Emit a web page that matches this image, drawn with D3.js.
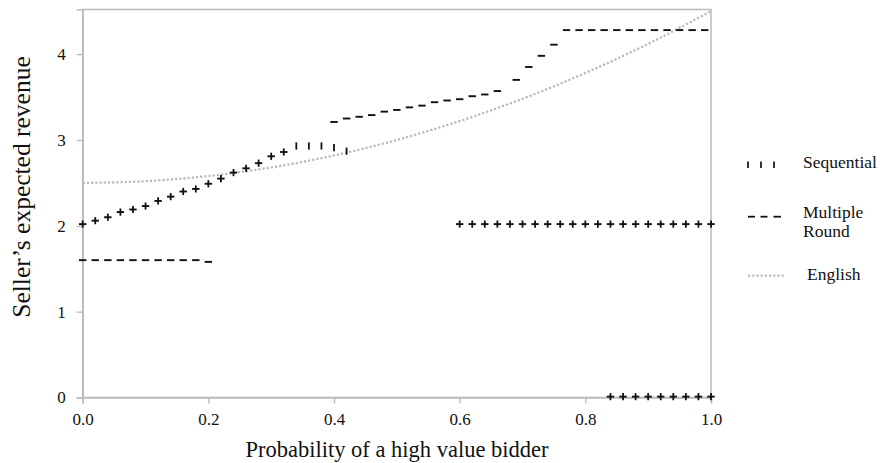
<!DOCTYPE html>
<html><head><meta charset="utf-8">
<script src="https://cdn.jsdelivr.net/npm/d3@7"></script>
<style>
html,body{margin:0;padding:0;background:#fff;}
svg{display:block;}
text{font-family:"Liberation Serif","Times New Roman",serif;fill:#111;}
</style></head>
<body>
<svg id="chart" width="880" height="463"></svg>
<script>
// ---- Data ----
const xTicks = [0.0, 0.2, 0.4, 0.6, 0.8, 1.0];
const yTicks = [0, 1, 2, 3, 4];

// Sequential
const seqLowProb = [0.00,0.02,0.04,0.06,0.08,0.10,0.12,0.14,0.16,0.18,0.20,0.22,0.24,0.26,0.28,0.30,0.32,0.34,0.36,0.38,0.40,0.42];
const seqLowRev  = [2.02,2.06,2.10,2.16,2.19,2.23,2.29,2.34,2.40,2.43,2.49,2.55,2.62,2.67,2.73,2.81,2.86,2.93,2.93,2.93,2.91,2.87];
const seqMidProb = [0.60,0.62,0.64,0.66,0.68,0.70,0.72,0.74,0.76,0.78,0.80,0.82,0.84,0.86,0.88,0.90,0.92,0.94,0.96,0.98,1.00];
const seqMidRev  = [2.02,2.02,2.02,2.02,2.02,2.02,2.02,2.02,2.02,2.02,2.02,2.02,2.02,2.02,2.02,2.02,2.02,2.02,2.02,2.02,2.02];
const seqZeroProb = [0.84,0.86,0.88,0.90,0.92,0.94,0.96,0.98,1.00];
const seqZeroRev  = [0.01,0.01,0.01,0.01,0.01,0.01,0.01,0.01,0.01];

// Multiple Round
const mrLowProb = [0.00,0.02,0.04,0.06,0.08,0.10,0.12,0.14,0.16,0.18,0.20];
const mrLowRev  = [1.60,1.60,1.60,1.60,1.60,1.60,1.60,1.60,1.60,1.60,1.58];
const mrMidProb = [0.00,0.02,0.04,0.06,0.08,0.10,0.12,0.14,0.16,0.18,0.20,0.22,0.24,0.26,0.28,0.30,0.32];
const mrMidRev  = [2.02,2.06,2.10,2.16,2.19,2.23,2.29,2.34,2.40,2.43,2.49,2.55,2.62,2.67,2.73,2.81,2.86];
const mrHighProb = [0.40,0.42,0.44,0.46,0.48,0.50,0.52,0.54,0.56,0.58,0.60,0.62,0.64,0.66,0.69,0.71,0.73,0.75,0.77,0.79,0.81,0.83,0.85,0.87,0.89,0.91,0.93,0.95,0.97,0.99];
const mrHighRev  = [3.21,3.25,3.27,3.29,3.33,3.35,3.38,3.40,3.44,3.46,3.475,3.51,3.53,3.57,3.70,3.85,3.98,4.11,4.28,4.28,4.28,4.28,4.28,4.28,4.28,4.28,4.28,4.28,4.28,4.28];
const mrTwoProb = [0.60,0.62,0.64,0.66,0.68,0.70,0.72,0.74,0.76,0.78,0.80,0.82,0.84,0.86,0.88,0.90,0.92,0.94,0.96,0.98,1.00];
const mrTwoRev  = [2.02,2.02,2.02,2.02,2.02,2.02,2.02,2.02,2.02,2.02,2.02,2.02,2.02,2.02,2.02,2.02,2.02,2.02,2.02,2.02,2.02];
const mrZeroProb = [0.84,0.86,0.88,0.90,0.92,0.94,0.96,0.98,1.00];
const mrZeroRev  = [0.01,0.01,0.01,0.01,0.01,0.01,0.01,0.01,0.01];

// English
const engProb = [0.0,0.1,0.2,0.3,0.4,0.5,0.6,0.7,0.8,0.9,1.0];
const engRev  = [2.50,2.52,2.58,2.68,2.82,3.00,3.22,3.48,3.78,4.12,4.50];

const seriesNames = ["Sequential", "Multiple Round", "English"];

// ---- Layout ----
const svg = d3.select("#chart");
const padL = 82.7, padR = 711, padT = 9.5, padB = 397.5;
const x = d3.scaleLinear().domain([0, 1]).range([padL, padR]);
const y = d3.scaleLinear().domain([0, 4.52]).range([padB, padT]);

const axisColor = "#bdbdbd";

// frame
svg.append("rect")
  .attr("x", padL).attr("y", padT)
  .attr("width", padR - padL).attr("height", padB - padT)
  .attr("fill", "none").attr("stroke", axisColor).attr("stroke-width", 1.6);

// axes
const xAxis = svg.append("g").attr("transform", `translate(0,${padB})`)
  .call(d3.axisBottom(x).tickValues(xTicks).tickFormat(d3.format(".1f")).tickSizeOuter(0).tickSize(6).tickPadding(9));
const yAxis = svg.append("g").attr("transform", `translate(${padL},0)`)
  .call(d3.axisLeft(y).tickValues(yTicks).tickFormat(d3.format("d")).tickSizeOuter(0).tickSize(6).tickPadding(11));
[xAxis, yAxis].forEach(g => {
  g.select(".domain").attr("stroke", axisColor).attr("stroke-width", 1.6);
  g.selectAll(".tick line").attr("stroke", axisColor).attr("stroke-width", 1.4);
  g.selectAll(".tick text").style("font-family", "'Liberation Serif', serif").style("font-size", "17px").attr("fill", "#222");
});

// English dotted curve
const engData = engProb.map((p, i) => [p, engRev[i]]);
svg.append("path")
  .datum(engData)
  .attr("fill", "none")
  .attr("stroke", "#bababa")
  .attr("stroke-width", 2.3)
  .attr("stroke-dasharray", "2.2,2")
  .attr("d", d3.line().x(d => x(d[0])).y(d => y(d[1])).curve(d3.curveMonotoneX));

// markers
function zip(a, b) { return a.map((v, i) => [v, b[i]]); }
const seqPoints = [].concat(zip(seqLowProb, seqLowRev), zip(seqMidProb, seqMidRev), zip(seqZeroProb, seqZeroRev));
const mrPoints = [].concat(zip(mrLowProb, mrLowRev), zip(mrMidProb, mrMidRev), zip(mrHighProb, mrHighRev), zip(mrTwoProb, mrTwoRev), zip(mrZeroProb, mrZeroRev));

svg.append("g").selectAll("line").data(mrPoints).join("line")
  .attr("x1", d => x(d[0]) - 3.7).attr("x2", d => x(d[0]) + 3.7)
  .attr("y1", d => y(d[1])).attr("y2", d => y(d[1]))
  .attr("stroke", "#111").attr("stroke-width", 1.9);

svg.append("g").selectAll("line").data(seqPoints).join("line")
  .attr("x1", d => x(d[0])).attr("x2", d => x(d[0]))
  .attr("y1", d => y(d[1]) - 3.6).attr("y2", d => y(d[1]) + 3.6)
  .attr("stroke", "#111").attr("stroke-width", 1.8);

// axis titles
svg.append("text")
  .attr("x", 397).attr("y", 457)
  .attr("text-anchor", "middle")
  .style("font-size", "22.5px")
  .text("Probability of a high value bidder");
svg.append("text")
  .attr("transform", "translate(30,187) rotate(-90)")
  .attr("text-anchor", "middle")
  .style("font-size", "25.5px")
  .text("Seller’s expected revenue");

// legend
const legend = svg.append("g");
legend.selectAll("line.seq").data([748, 761, 774]).join("line")
  .attr("class", "seq")
  .attr("x1", d => d).attr("x2", d => d)
  .attr("y1", 161.5).attr("y2", 168)
  .attr("stroke", "#111").attr("stroke-width", 1.7);
legend.append("text").attr("x", 803).attr("y", 168).style("font-size", "17.5px").text(seriesNames[0]);
legend.selectAll("line.mr").data([[748, 755], [760.5, 767.5], [773.5, 781]]).join("line")
  .attr("class", "mr")
  .attr("x1", d => d[0]).attr("x2", d => d[1])
  .attr("y1", 216.7).attr("y2", 216.7)
  .attr("stroke", "#111").attr("stroke-width", 1.8);
legend.append("text").attr("x", 803).attr("y", 218).style("font-size", "17.5px").text("Multiple");
legend.append("text").attr("x", 803).attr("y", 237).style("font-size", "17.5px").text("Round");
legend.append("line")
  .attr("x1", 748).attr("x2", 784).attr("y1", 275.7).attr("y2", 275.7)
  .attr("stroke", "#bababa").attr("stroke-width", 2.3).attr("stroke-dasharray", "2.2,2");
legend.append("text").attr("x", 807).attr("y", 280).style("font-size", "17.5px").text(seriesNames[2]);
</script>
</body></html>
